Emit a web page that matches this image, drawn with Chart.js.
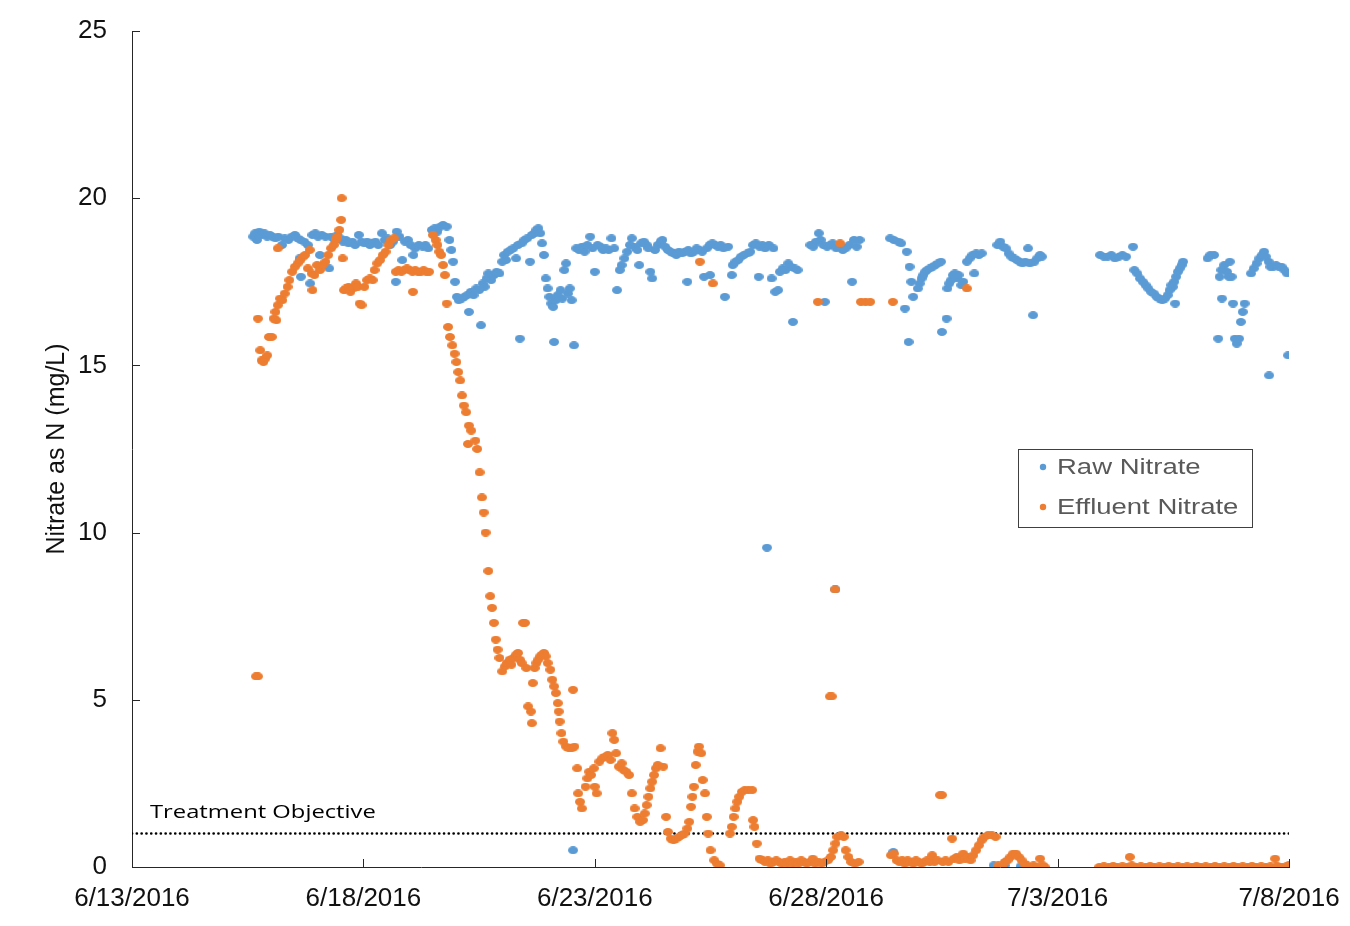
<!DOCTYPE html>
<html>
<head>
<meta charset="utf-8">
<title>Nitrate as N</title>
<script src="https://cdn.jsdelivr.net/npm/chart.js"></script>
<style>
  html, body { margin: 0; padding: 0; background: #ffffff; }
  #wrap { width: 1350px; height: 926px; }
</style>
</head>
<body>
<div id="wrap"><canvas id="chart" width="1350" height="926"></canvas></div>
<script>
// Time axis: days elapsed since 6/13/2016 00:00
const tickDays = [0, 5, 10, 15, 20, 25];
const tickLabels = ['6/13/2016', '6/18/2016', '6/23/2016', '6/28/2016', '7/3/2016', '7/8/2016'];
const yTicks = [0, 5, 10, 15, 20, 25];

const seriesNames = ['Raw Nitrate', 'Effluent Nitrate'];
const seriesColors = ['#5B9BD5', '#ED7D31'];

const objectiveValue = 1;
const objectiveLabel = 'Treatment Objective';

// Raw nitrate readings, [day, mg/L]
const rawNitrate = [
  [2.62,18.85],[2.66,18.95],[2.70,18.75],[2.75,19.0],[2.80,18.9],[2.86,18.95],[2.92,18.85],[2.98,18.9],
  [3.04,18.85],[3.10,18.8],[3.16,18.85],[3.24,18.6],[3.30,18.8],[3.38,18.75],[3.45,18.85],[3.52,18.9],
  [3.58,18.8],[3.64,18.75],[3.72,18.7],[3.62,18.2],[3.65,17.65],[3.85,17.45],[3.80,18.6],[3.90,18.9],
  [3.96,18.95],[4.02,18.85],[4.06,18.3],[4.10,18.9],[4.18,18.85],[4.26,17.9],[4.30,18.85],[4.38,18.75],
  [4.44,18.9],[4.50,18.8],[4.56,18.7],[4.62,18.75],[4.68,18.65],[4.76,18.7],[4.82,18.6],[4.90,18.9],
  [4.96,18.7],[5.02,18.65],[5.08,18.7],[5.14,18.6],[5.20,18.65],[5.26,18.7],[5.32,18.6],[5.40,18.95],
  [5.46,18.75],[5.52,18.8],[5.58,18.6],[5.64,18.7],[5.70,17.5],[5.72,19.0],[5.78,18.85],[5.84,18.15],
  [5.90,18.7],[5.96,18.75],[6.02,18.6],[6.08,18.3],[6.12,18.5],[6.20,18.6],[6.28,18.55],[6.34,18.6],
  [6.40,18.5],[6.48,19.05],[6.54,19.1],[6.60,19.0],[6.66,19.15],[6.72,19.2],[6.80,19.15],[6.86,18.75],
  [6.90,18.45],[6.94,18.1],[6.98,17.5],[7.02,17.05],[7.06,16.95],[7.12,17.0],[7.18,17.05],[7.24,17.1],
  [7.28,16.6],[7.32,17.2],[7.38,17.1],[7.44,17.3],[7.50,17.25],[7.54,16.2],[7.58,17.45],[7.62,17.35],
  [7.66,17.6],[7.70,17.75],[7.76,17.55],[7.82,17.7],[7.88,17.8],[7.94,17.75],[8.00,18.1],[8.04,18.3],
  [8.08,18.15],[8.12,18.4],[8.18,18.45],[8.24,18.5],[8.30,18.2],[8.34,18.6],[8.38,15.8],[8.42,18.65],
  [8.48,18.75],[8.54,18.8],[8.60,18.1],[8.64,18.9],[8.70,18.95],[8.74,19.05],[8.78,19.1],[8.82,18.95],
  [8.86,18.65],[8.90,18.3],[8.94,17.6],[8.98,17.3],[9.02,17.05],[9.06,16.85],[9.10,16.75],[9.12,15.7],
  [9.16,16.95],[9.20,17.1],[9.26,17.25],[9.30,17.0],[9.34,17.85],[9.38,18.05],[9.42,17.15],[9.46,17.3],
  [9.50,16.95],[9.53,0.5],[9.55,15.6],[9.60,18.5],[9.66,18.45],[9.72,18.55],[9.78,18.4],[9.84,18.6],
  [9.90,18.85],[9.95,18.5],[10.00,17.8],[10.06,18.6],[10.12,18.55],[10.18,18.45],[10.24,18.5],[10.30,18.45],
  [10.36,18.8],[10.42,18.5],[10.48,17.25],[10.54,17.85],[10.58,18.0],[10.64,18.2],[10.70,18.4],[10.76,18.6],
  [10.80,18.8],[10.86,18.55],[10.92,18.45],[10.96,18.0],[11.00,18.65],[11.06,18.7],[11.12,18.6],[11.16,18.5],
  [11.20,17.8],[11.24,17.6],[11.30,18.45],[11.36,18.6],[11.42,18.7],[11.46,18.75],[11.52,18.55],[11.58,18.45],
  [11.64,18.4],[11.70,18.35],[11.76,18.3],[11.82,18.4],[11.88,18.35],[11.94,18.4],[12.00,17.5],[12.02,18.45],
  [12.08,18.35],[12.14,18.4],[12.20,18.5],[12.26,18.45],[12.32,18.4],[12.36,17.65],[12.42,18.5],[12.48,18.6],
  [12.49,17.7],[12.54,18.65],[12.60,18.6],[12.66,18.55],[12.72,18.6],[12.78,18.5],[12.81,17.05],[12.88,18.55],
  [12.96,17.7],[12.98,18.0],[13.04,18.1],[13.10,18.15],[13.16,18.25],[13.22,18.3],[13.30,18.35],[13.36,18.4],
  [13.42,18.6],[13.48,18.65],[13.54,17.65],[13.56,18.55],[13.62,18.6],[13.68,18.5],[13.72,9.55],[13.76,18.6],
  [13.82,17.6],[13.86,18.5],[13.90,17.2],[13.96,17.25],[14.00,17.8],[14.06,17.9],[14.12,17.85],[14.18,18.05],
  [14.24,17.95],[14.28,16.3],[14.32,17.9],[14.38,17.85],[14.66,18.6],[14.72,18.55],[14.78,18.7],[14.84,18.95],
  [14.88,18.75],[14.94,18.6],[14.97,16.9],[15.02,18.55],[15.08,18.6],[15.14,18.65],[15.20,8.3],[15.22,18.5],
  [15.30,18.55],[15.36,18.45],[15.42,18.5],[15.50,18.6],[15.56,17.5],[15.60,18.75],[15.66,18.55],[15.72,18.75],
  [16.38,18.8],[16.45,0.45],[16.46,18.75],[16.56,18.7],[16.62,18.65],[16.70,16.7],[16.74,18.4],[16.78,15.7],
  [16.80,17.95],[16.84,17.5],[16.88,17.05],[16.98,17.3],[17.02,17.45],[17.06,17.6],[17.10,17.7],[17.14,17.8],
  [17.18,17.85],[17.24,17.9],[17.30,17.95],[17.36,18.0],[17.42,18.05],[17.48,18.1],[17.50,16.0],[17.60,16.4],
  [17.62,17.3],[17.66,17.45],[17.70,17.55],[17.74,17.7],[17.78,17.75],[17.82,17.6],[17.86,17.7],[17.92,17.4],
  [17.96,17.5],[18.04,18.1],[18.10,18.2],[18.16,18.3],[18.20,17.75],[18.24,18.35],[18.30,18.3],[18.36,18.35],
  [18.62,0.05],[18.70,18.6],[18.76,18.7],[18.82,18.55],[18.86,0.05],[18.88,18.5],[18.94,18.35],[19.00,18.25],
  [19.06,18.2],[19.12,18.15],[19.18,18.1],[19.20,0.02],[19.24,18.05],[19.30,18.1],[19.36,18.5],[19.40,18.05],
  [19.47,16.5],[19.50,18.1],[19.56,18.2],[19.62,18.3],[19.66,18.25],
  [20.92,18.3],[21.00,18.25],[21.08,18.25],[21.16,18.3],[21.24,18.2],[21.32,18.25],[21.40,18.3],[21.48,18.25],
  [21.63,18.55],[21.66,17.85],[21.72,17.75],[21.78,17.6],[21.84,17.5],[21.90,17.4],[21.96,17.3],[22.02,17.2],
  [22.08,17.15],[22.14,17.05],[22.20,17.0],[22.26,16.95],[22.32,17.0],[22.38,17.1],[22.42,17.25],[22.46,17.4],
  [22.49,17.35],[22.54,16.85],[22.52,17.5],[22.56,17.65],[22.60,17.8],[22.64,17.9],[22.68,18.0],[22.71,18.1],
  [23.24,18.2],[23.30,18.3],[23.38,18.3],[23.47,15.8],[23.50,17.65],[23.54,17.85],[23.55,17.0],[23.60,18.0],
  [23.66,17.8],[23.70,17.65],[23.72,18.1],[23.76,17.65],[23.79,16.85],[23.83,15.8],[23.87,15.65],[23.92,15.8],
  [23.96,16.3],[24.00,16.6],[24.04,16.85],[24.18,17.75],[24.24,17.9],[24.30,18.05],[24.36,18.2],[24.42,18.3],
  [24.46,18.4],[24.50,18.25],[24.56,18.1],[24.57,14.7],[24.60,17.95],[24.66,17.95],[24.72,18.0],[24.78,17.95],
  [24.84,17.95],[24.90,17.85],[24.96,17.75],[24.98,15.3]
];

// Effluent nitrate readings, [day, mg/L]
const effluentNitrate = [
  [2.68,5.7],[2.72,5.7],[2.72,16.4],[2.77,15.45],[2.80,15.15],[2.84,15.1],[2.88,15.2],[2.92,15.3],
  [2.96,15.85],[3.02,15.85],[3.06,16.4],[3.12,16.35],[3.10,16.6],[3.15,16.8],[3.20,17.0],[3.25,16.95],
  [3.15,18.5],[3.30,17.15],[3.36,17.35],[3.40,17.55],[3.46,17.8],[3.52,17.95],[3.58,18.05],[3.64,18.15],
  [3.70,18.25],[3.74,18.3],[3.80,17.9],[3.84,18.45],[3.88,17.75],[3.90,17.25],[3.94,17.7],[4.00,18.0],
  [4.06,17.85],[4.12,18.0],[4.18,18.1],[4.24,18.3],[4.30,18.5],[4.36,18.6],[4.40,18.75],[4.44,18.85],
  [4.48,19.05],[4.52,19.35],[4.53,20.0],[4.55,18.2],[4.58,17.25],[4.62,17.3],[4.68,17.35],[4.72,17.2],
  [4.78,17.3],[4.84,17.45],[4.88,17.35],[4.92,16.85],[4.96,16.8],[5.02,17.35],[5.08,17.55],[5.14,17.6],
  [5.20,17.55],[5.24,17.85],[5.30,18.05],[5.36,18.15],[5.42,18.3],[5.48,18.4],[5.54,18.6],[5.60,18.75],
  [5.66,18.8],[5.70,17.8],[5.76,17.85],[5.82,17.8],[5.88,17.85],[5.94,17.9],[6.00,17.85],[6.06,17.8],
  [6.07,17.2],[6.12,17.85],[6.18,17.8],[6.24,17.8],[6.30,17.85],[6.36,17.8],[6.42,17.8],[6.50,18.9],
  [6.56,18.75],[6.60,18.6],[6.64,18.4],[6.68,18.3],[6.72,18.0],[6.76,17.7],[6.80,16.85],[6.83,16.15],
  [6.87,15.85],[6.92,15.6],[6.97,15.35],[7.01,15.1],[7.05,14.8],[7.09,14.55],[7.13,14.1],[7.17,13.8],
  [7.22,13.6],[7.28,13.2],[7.33,13.05],[7.26,12.65],[7.42,12.75],[7.46,12.5],[7.51,11.8],[7.56,11.05],
  [7.60,10.6],[7.64,10.0],[7.70,8.85],[7.74,8.1],[7.78,7.75],[7.82,7.3],[7.86,6.8],[7.90,6.5],
  [7.94,6.25],[8.00,5.85],[8.06,6.0],[8.10,6.1],[8.16,6.2],[8.20,6.05],[8.24,6.25],[8.30,6.35],
  [8.34,6.4],[8.38,6.2],[8.42,6.1],[8.45,7.3],[8.49,7.3],[8.52,5.95],[8.56,4.8],[8.62,4.65],
  [8.64,4.3],[8.66,5.5],[8.70,5.95],[8.74,6.1],[8.78,6.2],[8.82,6.3],[8.86,6.35],[8.90,6.4],
  [8.94,6.3],[8.98,6.1],[9.04,5.9],[9.08,5.6],[9.12,5.4],[9.16,5.2],[9.20,4.9],[9.22,4.65],
  [9.24,4.35],[9.28,4.0],[9.32,3.75],[9.38,3.6],[9.44,3.55],[9.50,3.55],[9.53,5.3],[9.56,3.6],
  [9.62,2.95],[9.64,2.2],[9.68,1.95],[9.72,1.75],[9.80,2.4],[9.84,2.65],[9.88,2.85],[9.92,2.75],
  [9.98,2.95],[10.00,2.4],[10.04,2.2],[10.10,3.15],[10.16,3.25],[10.22,3.3],[10.28,3.35],[10.34,3.2],
  [10.38,4.0],[10.42,3.8],[10.46,3.4],[10.52,3.0],[10.58,3.1],[10.62,2.9],[10.68,2.85],[10.74,2.75],
  [10.80,2.2],[10.86,1.75],[10.92,1.5],[10.98,1.35],[11.04,1.4],[11.08,1.6],[11.12,1.85],[11.16,2.1],
  [11.20,2.35],[11.24,2.55],[11.28,2.75],[11.32,2.95],[11.36,3.05],[11.42,3.55],[11.48,3.0],[11.54,1.5],
  [11.58,1.05],[11.64,0.85],[11.70,0.8],[11.76,0.85],[11.82,0.9],[11.88,0.95],[11.94,1.0],[12.00,1.15],
  [12.04,1.35],[12.08,1.8],[12.11,2.1],[12.14,2.4],[12.18,3.05],[12.22,3.45],[12.25,3.6],[12.27,18.1],
  [12.30,3.4],[12.33,2.6],[12.38,2.2],[12.42,1.5],[12.45,1.0],[12.50,0.5],[12.55,17.45],[12.58,0.2],
  [12.64,0.1],[12.70,0.05],[12.92,1.0],[12.96,1.2],[13.00,1.5],[13.04,1.75],[13.08,1.95],[13.12,2.1],
  [13.18,2.25],[13.24,2.3],[13.32,2.3],[13.40,2.3],[13.42,1.4],[13.45,1.2],[13.50,0.7],[13.56,0.25],
  [13.62,0.2],[13.68,0.15],[13.74,0.2],[13.80,0.1],[13.86,0.15],[13.92,0.2],[13.98,0.15],[14.04,0.1],
  [14.10,0.15],[14.16,0.1],[14.22,0.2],[14.28,0.1],[14.34,0.15],[14.40,0.1],[14.46,0.2],[14.52,0.15],
  [14.58,0.1],[14.64,0.15],[14.71,0.25],[14.76,0.1],[14.82,16.9],[14.84,0.15],[14.90,0.1],[14.96,0.15],
  [15.04,0.2],[15.08,5.1],[15.12,5.1],[15.10,0.3],[15.15,0.5],[15.19,8.3],[15.20,0.7],[15.24,0.9],
  [15.30,18.65],[15.32,0.95],[15.38,0.9],[15.42,0.5],[15.48,0.3],[15.54,0.15],[15.62,0.1],[15.70,0.15],
  [15.75,16.9],[15.85,16.9],[15.95,16.9],[16.44,16.9],[16.40,0.35],[16.46,0.4],[16.52,0.2],[16.58,0.15],
  [16.64,0.2],[16.70,0.1],[16.76,0.2],[16.82,0.15],[16.88,0.1],[16.94,0.2],[17.00,0.15],[17.06,0.1],
  [17.12,0.15],[17.18,0.2],[17.24,0.15],[17.29,0.35],[17.34,0.15],[17.40,0.2],[17.46,2.15],[17.50,2.15],
  [17.52,0.15],[17.58,0.2],[17.64,0.15],[17.72,0.85],[17.76,0.25],[17.82,0.3],[17.88,0.2],[17.96,0.4],
  [18.00,0.25],[18.04,17.3],[18.06,0.3],[18.12,0.2],[18.18,0.35],[18.24,0.5],[18.30,0.65],[18.36,0.8],
  [18.42,0.9],[18.50,0.95],[18.58,0.95],[18.66,0.9],[18.72,0.05],[18.80,0.0],[18.86,0.15],[18.92,0.2],
  [18.98,0.3],[19.04,0.4],[19.10,0.4],[19.16,0.3],[19.22,0.2],[19.28,0.1],[19.34,0.05],[19.40,0.0],
  [19.48,0.05],[19.56,0.0],[19.62,0.25],[19.68,0.05],[19.72,0.0],
  [20.90,0.0],[21.00,0.02],[21.10,0.0],[21.20,0.03],[21.30,0.0],[21.40,0.02],[21.50,0.0],[21.56,0.3],
  [21.60,0.05],[21.70,0.0],[21.80,0.02],[21.90,0.0],[22.00,0.03],[22.10,0.0],[22.20,0.02],[22.30,0.0],
  [22.40,0.03],[22.50,0.0],[22.60,0.02],[22.70,0.0],[22.80,0.02],[22.90,0.0],[23.00,0.03],[23.10,0.0],
  [23.20,0.02],[23.30,0.0],[23.40,0.03],[23.50,0.0],[23.60,0.02],[23.70,0.0],[23.80,0.03],[23.90,0.0],
  [24.00,0.02],[24.10,0.0],[24.20,0.03],[24.30,0.0],[24.40,0.02],[24.50,0.0],[24.60,0.02],[24.70,0.25],
  [24.75,0.03],[24.85,0.0],[24.95,0.02],[25.00,0.05]
];

// Slightly oval marker, as produced by the source spreadsheet
function ovalMarker(color, w, h) {
  const c = document.createElement('canvas');
  c.width = w; c.height = h;
  const g = c.getContext('2d');
  g.fillStyle = color;
  g.beginPath();
  g.ellipse(w / 2, h / 2, w / 2, h / 2, 0, 0, Math.PI * 2);
  g.fill();
  return c;
}

const toXY = arr => arr.map(([d, v]) => ({ x: d, y: v }));

// Inner tick marks, objective caption and boxed legend
const decorations = {
  id: 'decorations',
  afterDatasetsDraw(chart) {
    const { ctx, chartArea, scales } = chart;
    const xs = scales.x, ys = scales.y;
    ctx.save();

    ctx.strokeStyle = '#262626';
    ctx.lineWidth = 1;
    ctx.beginPath();
    ys.ticks.forEach(t => {
      const py = Math.round(ys.getPixelForValue(t.value)) + 0.5;
      ctx.moveTo(chartArea.left, py);
      ctx.lineTo(chartArea.left + 8, py);
    });
    xs.ticks.forEach(t => {
      const px = Math.round(xs.getPixelForValue(t.value)) + 0.5;
      ctx.moveTo(px, chartArea.bottom);
      ctx.lineTo(px, chartArea.bottom - 8);
    });
    ctx.stroke();

    // caption over the objective line
    const oy = ys.getPixelForValue(objectiveValue);
    ctx.fillStyle = '#000000';
    ctx.font = '18px "Open Sans"';
    ctx.textBaseline = 'alphabetic';
    ctx.textAlign = 'left';
    ctx.save();
    ctx.translate(chartArea.left + 18, oy - 16);
    ctx.scale(1.32, 1);
    ctx.fillText(objectiveLabel, 0, 0);
    ctx.restore();

    // legend box
    const bx = chartArea.right - 271, by = chartArea.top + 418, bw = 234, bh = 78;
    ctx.fillStyle = '#ffffff';
    ctx.fillRect(bx, by, bw, bh);
    ctx.strokeStyle = '#404040';
    ctx.lineWidth = 1;
    ctx.strokeRect(bx + 0.5, by + 0.5, bw, bh);
    seriesNames.forEach((name, i) => {
      const cy = by + 18 + i * 40;
      ctx.fillStyle = seriesColors[i];
      ctx.beginPath();
      ctx.arc(bx + 25, cy, 3.2, 0, Math.PI * 2);
      ctx.fill();
      ctx.fillStyle = '#595959';
      ctx.font = '22px "Liberation Sans", Arial, sans-serif';
      ctx.textBaseline = 'middle';
      ctx.save();
      ctx.translate(bx + 39, cy + 1);
      ctx.scale(1.25, 1);
      ctx.fillText(name, 0, 0);
      ctx.restore();
    });

    ctx.restore();
  }
};

const tickFont = { family: '"Liberation Sans", Arial, sans-serif', size: 26 };

new Chart(document.getElementById('chart'), {
  type: 'scatter',
  data: {
    datasets: [
      {
        label: seriesNames[0],
        data: toXY(rawNitrate),
        pointStyle: ovalMarker(seriesColors[0], 10, 8),
        backgroundColor: seriesColors[0],
        borderColor: seriesColors[0],
        order: 2
      },
      {
        label: seriesNames[1],
        data: toXY(effluentNitrate),
        pointStyle: ovalMarker(seriesColors[1], 10, 8),
        backgroundColor: seriesColors[1],
        borderColor: seriesColors[1],
        order: 1
      },
      {
        type: 'line',
        label: objectiveLabel,
        data: [{ x: tickDays[0], y: objectiveValue }, { x: tickDays[tickDays.length - 1], y: objectiveValue }],
        borderColor: '#000000',
        borderWidth: 2.6,
        borderDash: [0.1, 4.7],
        borderCapStyle: 'round',
        pointRadius: 0,
        fill: false,
        order: 3
      }
    ]
  },
  options: {
    responsive: false,
    animation: false,
    devicePixelRatio: 1,
    layout: { padding: { left: 0, right: 61, top: 31, bottom: 0 } },
    plugins: {
      legend: { display: false },
      tooltip: { enabled: false }
    },
    scales: {
      x: {
        type: 'linear',
        min: tickDays[0],
        max: tickDays[tickDays.length - 1],
        afterBuildTicks: s => { s.ticks = tickDays.map(v => ({ value: v })); },
        afterFit: s => { s.height = 59; s.paddingLeft = 0; s.paddingRight = 0; },
        grid: { display: false, drawTicks: false },
        border: { display: true, color: '#262626', width: 1 },
        ticks: {
          font: tickFont,
          color: '#111111',
          padding: 16,
          maxRotation: 0,
          autoSkip: false,
          callback: v => tickLabels[tickDays.indexOf(v)]
        }
      },
      y: {
        type: 'linear',
        min: yTicks[0],
        max: yTicks[yTicks.length - 1],
        afterBuildTicks: s => { s.ticks = yTicks.map(v => ({ value: v })); },
        afterFit: s => { s.width = 132; s.paddingTop = 0; s.paddingBottom = 0; },
        grid: { display: false, drawTicks: false },
        border: { display: true, color: '#262626', width: 1 },
        ticks: { font: tickFont, color: '#111111', padding: 25 },
        title: {
          display: true,
          text: 'Nitrate as N (mg/L)',
          font: { family: '"Liberation Sans", Arial, sans-serif', size: 25 },
          color: '#111111',
          padding: { top: 42, bottom: 0 }
        }
      }
    }
  },
  plugins: [decorations]
});
</script>
</body>
</html>
